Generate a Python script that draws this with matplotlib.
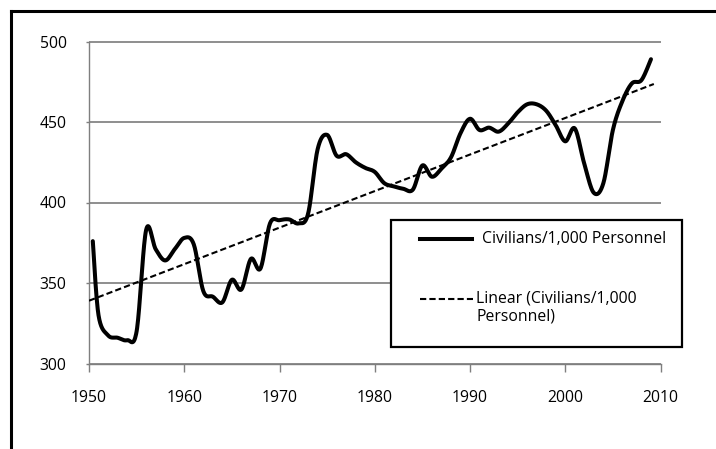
import numpy as np
import matplotlib
matplotlib.use("Agg")
import matplotlib.pyplot as plt
from matplotlib.lines import Line2D
from matplotlib.patches import Rectangle

plt.rcParams['font.family'] = ['Open Sans', 'DejaVu Sans']

# civilians per 1,000 personnel
years = [1950.4] + list(range(1951, 2010))
civilians = [376, 330, 317.5, 316, 314.5, 320, 383, 371, 364, 371,
             378, 374, 345, 341.5, 338, 352, 346, 365, 359, 387,
             389, 389.5, 387, 393, 433, 442, 429, 430, 425, 421.5,
             419, 412, 410, 408.5, 408, 423, 416, 421, 428, 443,
             452, 445, 446.5, 444, 449, 456, 461, 461, 457, 448,
             438, 446, 424, 406, 412, 445, 463, 474, 476, 489]

# linear trend line end points
trend_x = [1950, 2009.3]
trend_y = [339, 473.6]

x_ticks = [1950, 1960, 1970, 1980, 1990, 2000, 2010]
y_ticks = [300, 350, 400, 450, 500]


def smooth(xs, ys, n=20):
    # excel style smoothed line (catmull-rom bezier)
    p = np.column_stack([xs, ys]).astype(float)
    p = np.vstack([p[0], p, p[-1]])
    t = np.linspace(0, 1, n)[:, None]
    out = []
    for i in range(1, len(p) - 2):
        p0, p1, p2, p3 = p[i - 1], p[i], p[i + 1], p[i + 2]
        b1 = p1 + (p2 - p0) / 6
        b2 = p2 - (p3 - p1) / 6
        seg = ((1 - t) ** 3) * p1 + 3 * ((1 - t) ** 2) * t * b1 + 3 * (1 - t) * t ** 2 * b2 + t ** 3 * p2
        out.append(seg if i == 1 else seg[1:])
    out = np.vstack(out)
    return out[:, 0], out[:, 1]


fig = plt.figure(figsize=(7.16, 4.49), dpi=100)
ax = fig.add_axes([89 / 716, 85.5 / 449, 571.5 / 716, 322 / 449])

sx, sy = smooth(years, civilians)
ax.plot(sx, sy, color='black', lw=2.9, solid_capstyle='round', zorder=3)
ax.plot(trend_x, trend_y, color='black', lw=1.5, dashes=(3, 1.5), zorder=3)

ax.set_xlim(1950, 2010)
ax.set_ylim(300, 500)
ax.set_xticks(x_ticks)
ax.set_yticks(y_ticks)
ax.yaxis.grid(True, color='#868686', lw=1.3)
ax.set_axisbelow(True)
for s in ['top', 'right']:
    ax.spines[s].set_visible(False)
for s in ['left', 'bottom']:
    ax.spines[s].set_color('#7f7f7f')
    ax.spines[s].set_linewidth(1.0)
ax.tick_params(axis='x', length=5.8, width=1, color='#7f7f7f', pad=13.5, labelsize=11.3)
ax.tick_params(axis='y', length=2.2, width=1, color='#7f7f7f', pad=13.9, labelsize=11.3)

# legend drawn by hand so the dashed handle sits on the first text line
kw = dict(transform=ax.transAxes, clip_on=False)
ax.add_patch(Rectangle((0.5284, 0.0512), 0.5092, 0.3945, fill=True, fc='white',
                       ec='black', lw=1.6, zorder=5, **kw))
ax.add_line(Line2D([0.579, 0.670], [0.3857, 0.3857], color='black', lw=2.9, zorder=6, **kw))
ax.text(0.687, 0.386, 'Civilians/1,000 Personnel', fontsize=11.3, va='center', ha='left', zorder=6, **kw)
ax.add_line(Line2D([0.579, 0.672], [0.1994, 0.1994], color='black', lw=1.5, dashes=(3, 1.5), zorder=6, **kw))
ax.text(0.678, 0.1739, 'Linear (Civilians/1,000\nPersonnel)', fontsize=11.3, va='center', ha='left',
        linespacing=1.15, zorder=6, **kw)

# outer frame (only top and left edges fall inside the picture)
fig.add_artist(Line2D([10.5 / 716, 1], [1 - 10.5 / 449, 1 - 10.5 / 449], color='black', lw=2.2))
fig.add_artist(Line2D([10.5 / 716, 10.5 / 716], [0, 1 - 10.5 / 449], color='black', lw=2.2))

fig.savefig('out.png', dpi=100)
